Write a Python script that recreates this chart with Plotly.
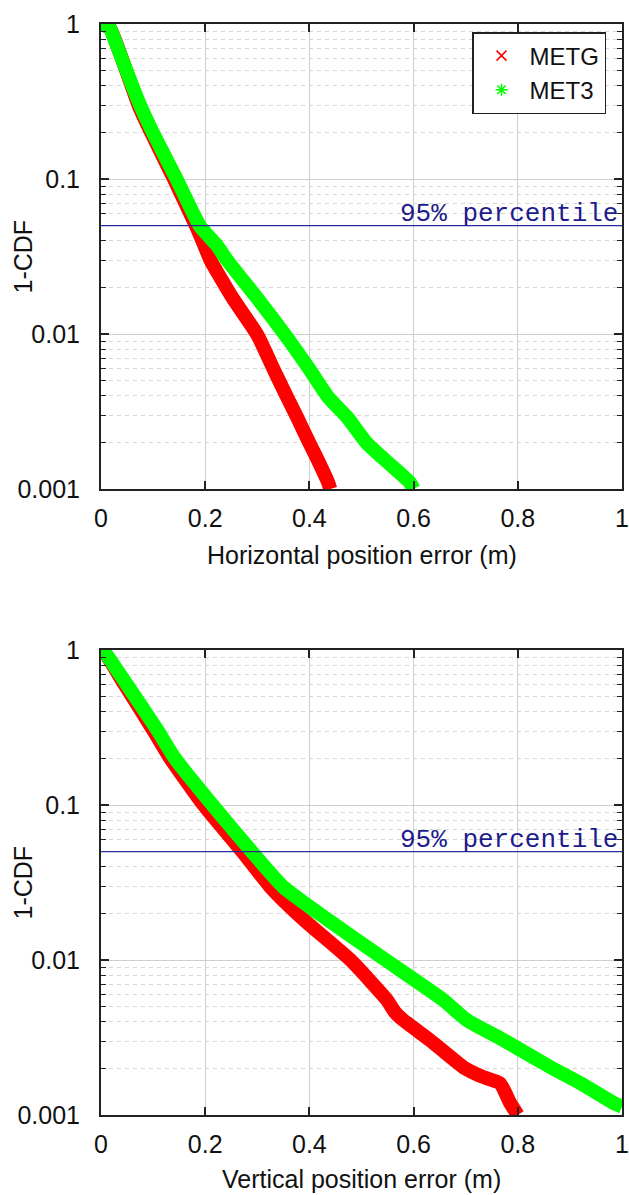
import math
import plotly.graph_objects as go

# ---------------- data ----------------
# Top panel: horizontal position error (m) vs 1-CDF
H_ERR_METG = [0.0, 0.017, 0.04, 0.072, 0.096, 0.14, 0.182, 0.198, 0.21, 0.253, 0.30,
              0.332, 0.357, 0.376, 0.40, 0.416, 0.436, 0.44]
H_CDF_METG = [1.0, 0.94, 0.60, 0.30, 0.20, 0.10, 0.05, 0.0375, 0.030, 0.017, 0.0099,
              0.00586, 0.00392, 0.00292, 0.00198, 0.00154, 0.0011, 0.001]

H_ERR_MET3 = [0.0, 0.017, 0.025, 0.04, 0.06, 0.075, 0.10, 0.146, 0.19, 0.222, 0.242,
              0.30, 0.353, 0.401, 0.436, 0.472, 0.51, 0.545, 0.593, 0.60]
H_CDF_MET3 = [1.0, 0.94, 0.81, 0.60, 0.40, 0.30, 0.198, 0.0986, 0.0497, 0.0375, 0.030,
              0.017, 0.0099, 0.00586, 0.00392, 0.00292, 0.00198, 0.00154, 0.0011, 0.001]

# Bottom panel: vertical position error (m) vs 1-CDF
V_ERR_METG = [0.0, 0.01, 0.045, 0.10, 0.133, 0.197, 0.272, 0.325, 0.39, 0.478, 0.549,
              0.564, 0.58, 0.631, 0.695, 0.733, 0.766, 0.785, 0.80]
V_CDF_METG = [1.0, 0.93, 0.60, 0.305, 0.20, 0.10, 0.0497, 0.0296, 0.0181, 0.01006, 0.00552,
              0.00462, 0.0041, 0.00305, 0.00204, 0.00176, 0.0016, 0.0012, 0.001]

V_ERR_MET3 = [0.0, 0.008, 0.048, 0.108, 0.142, 0.214, 0.29, 0.35, 0.436, 0.545, 0.657,
              0.702, 0.772, 0.862, 0.919, 0.983, 1.0]
V_CDF_MET3 = [1.0, 0.957, 0.61, 0.305, 0.20, 0.10, 0.0497, 0.0296, 0.0181, 0.01006, 0.00552,
              0.0041, 0.00305, 0.00204, 0.00161, 0.0012, 0.00113]

PERCENTILE_LEVEL = 0.05
SERIES_NAMES = ["METG", "MET3"]
X_TICKS = [0, 0.2, 0.4, 0.6, 0.8, 1]
X_TICK_TEXT = ["0", "0.2", "0.4", "0.6", "0.8", "1"]
Y_TICKS = [0.001, 0.01, 0.1, 1]
Y_TICK_TEXT = ["0.001", "0.01", "0.1", "1"]
Y_MINOR = [m * 10 ** e for e in (-3, -2, -1) for m in range(2, 10)]

# ---------------- style ----------------
RED = "#ff0000"
GREEN = "#00ff00"
BLUE_LINE = "#2a2a9a"
BLUE_TEXT = "#1c1c8c"
FONT = "Liberation Sans"
MONO = "Liberation Mono"
W, H = 629, 1195
PLOT_L, PLOT_R, PLOT_T, PLOT_B = 101, 622, 24, 1115   # page px of the plotting box
L, T, R, B = PLOT_L, PLOT_T, W - PLOT_R, H - PLOT_B
PH = PLOT_B - PLOT_T
PW = PLOT_R - PLOT_L


def py2paper(py):
    return (PLOT_B - py) / PH


def px2paper(px):
    return (px - PLOT_L) / PW


LW = 14

fig = go.Figure()

panels = [
    ("x", "y", H_ERR_METG, H_CDF_METG, H_ERR_MET3, H_CDF_MET3),
    ("x2", "y2", V_ERR_METG, V_CDF_METG, V_ERR_MET3, V_CDF_MET3),
]
for xa, ya, xr, yr, xg, yg in panels:
    fig.add_trace(go.Scatter(x=xr, y=yr, mode="lines", xaxis=xa, yaxis=ya,
                             line=dict(color=RED, width=LW, shape="spline", smoothing=0.5),
                             showlegend=False, hoverinfo="skip"))
    fig.add_trace(go.Scatter(x=xg, y=yg, mode="lines", xaxis=xa, yaxis=ya,
                             line=dict(color=GREEN, width=LW, shape="spline", smoothing=0.5),
                             showlegend=False, hoverinfo="skip"))
    fig.add_shape(type="line", xref=xa + " domain", yref=ya, x0=0, x1=1,
                  y0=PERCENTILE_LEVEL, y1=PERCENTILE_LEVEL,
                  line=dict(color=BLUE_LINE, width=1.2), layer="above")
    fig.add_annotation(text="95% percentile", xref=xa + " domain", yref=ya,
                       x=1, y=math.log10(PERCENTILE_LEVEL), xanchor="right", yanchor="bottom",
                       xshift=-2, yshift=-5, showarrow=False,
                       font=dict(family=MONO, size=26, color=BLUE_TEXT))

# legend entries (markers only, like the gnuplot key)
fig.add_trace(go.Scatter(x=[None], y=[None], mode="markers", name=SERIES_NAMES[0],
                         marker=dict(symbol="x-thin-open", size=10, color=RED,
                                     line=dict(color=RED, width=1.5))))
fig.add_trace(go.Scatter(x=[None], y=[None], mode="markers", name=SERIES_NAMES[1],
                         marker=dict(symbol="asterisk-open", size=10, color=GREEN,
                                     line=dict(color=GREEN, width=1.5))))

xcommon = dict(range=[0, 1], tickmode="array", tickvals=X_TICKS, ticktext=X_TICK_TEXT,
               showgrid=True, gridcolor="#cfcfcf", gridwidth=1, zeroline=False,
               ticks="inside", ticklen=8, tickwidth=1.5, tickcolor="#222",
               showline=True, linecolor="#222", linewidth=2, mirror="allticks",
               ticklabelstandoff=6, automargin=False,
               tickfont=dict(family=FONT, size=25, color="#111"))
ycommon = dict(type="log", range=[-3, 0], tickmode="array", tickvals=Y_TICKS, ticktext=Y_TICK_TEXT,
               showgrid=True, gridcolor="#cfcfcf", gridwidth=1, zeroline=False,
               ticks="inside", ticklen=8, tickwidth=1.5, tickcolor="#222",
               showline=True, linecolor="#222", linewidth=2, mirror="allticks",
               ticklabelstandoff=14, automargin=False,
               minor=dict(tickmode="array", tickvals=Y_MINOR, ticks="inside", ticklen=5,
                          tickwidth=1.2, tickcolor="#222", showgrid=True,
                          gridcolor="#d6d6d6", gridwidth=1, griddash="4px,4px"),
               tickfont=dict(family=FONT, size=25, color="#111"))

top_bottom = py2paper(489)
bot_top = py2paper(650)

fig.update_layout(
    width=W, height=H, autosize=False,
    margin=dict(l=L, r=R, t=T, b=B, pad=0, autoexpand=False),
    paper_bgcolor="white", plot_bgcolor="white",
    xaxis=dict(domain=[0, 1], anchor="y", **xcommon),
    yaxis=dict(domain=[top_bottom, 1], anchor="x", **ycommon),
    xaxis2=dict(domain=[0, 1], anchor="y2", **xcommon),
    yaxis2=dict(domain=[0, bot_top], anchor="x2", **ycommon),
    showlegend=True,
    legend=dict(x=px2paper(606), y=py2paper(32), xanchor="right", yanchor="top",
                bgcolor="white", bordercolor="#222", borderwidth=1.5,
                font=dict(family=FONT, size=24, color="#111"),
                itemwidth=46, tracegroupgap=0),
)

# axis titles as annotations (positioned like the gnuplot original)
for ya, title, py in [("y", "Horizontal position error (m)", 555),
                      ("y2", "Vertical position error (m)", 1179)]:
    fig.add_annotation(text=title, xref="paper", yref="paper", x=0.5, y=py2paper(py),
                       xanchor="center", yanchor="middle", showarrow=False,
                       font=dict(family=FONT, size=25, color="#111"))
    fig.add_annotation(text="1-CDF", xref="paper", yref=ya + " domain",
                       x=px2paper(22), y=0.5, textangle=-90,
                       xanchor="center", yanchor="middle", showarrow=False,
                       font=dict(family=FONT, size=25, color="#111"))

fig.write_html("out.html", config={"displayModeBar": False},
               post_script="document.body.style.margin='0';"
                           "document.body.style.overflow='hidden';")
